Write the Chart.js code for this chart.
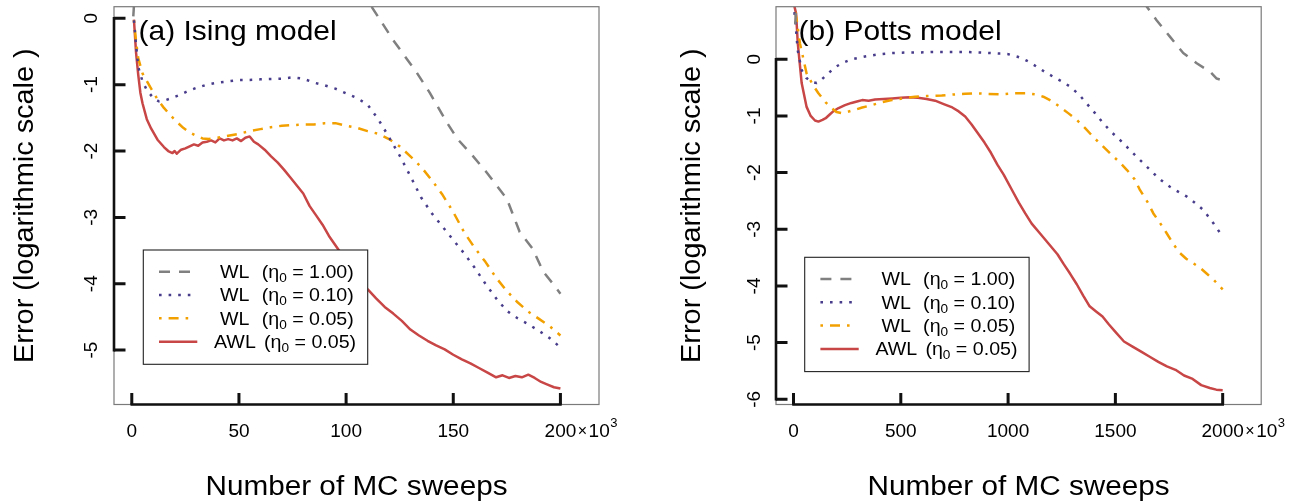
<!DOCTYPE html>
<html>
<head>
<meta charset="utf-8">
<script src="https://cdn.jsdelivr.net/npm/chart.js@4.4.0/dist/chart.umd.min.js"></script>
<style>
  html, body { margin: 0; padding: 0; background: #ffffff; }
  #wrap { position: relative; width: 1302px; height: 501px; }
  canvas { position: absolute; top: 0; }
  #ca { left: 0; }
  #cb { left: 651px; }
</style>
</head>
<body>
<div id="wrap">
  <canvas id="ca" width="651" height="501"></canvas>
  <canvas id="cb" width="651" height="501"></canvas>
</div>
<script>
// ---------------- DATA ----------------
const seriesNames = ["WL", "WL", "WL", "AWL"];
const seriesEta = ["1.00", "0.10", "0.05", "0.05"];

// Panel (a) Ising model  (x in units of 10^3 sweeps, y = log error)
const isingGrayX   = [0.7, 2, 5, 60, 100, 112, 122, 133, 139, 147, 152, 159, 165.5, 175, 181, 187, 192, 196, 200];
const isingGrayY   = [0.03, 0.7, 1.5, 2.2, 0.8, 0.17, -0.33, -0.82, -1.12, -1.57, -1.82, -2.07, -2.32, -2.72, -3.22, -3.47, -3.82, -3.98, -4.15];

const isingBlueX   = [1, 2, 3, 5, 7, 10, 12.5, 15, 18, 22, 26, 30, 35, 40, 45, 50, 55, 60, 65, 70, 75, 80, 85, 90, 95, 100, 105, 110, 115, 120, 125, 130, 135, 140, 145, 150, 155, 160, 165, 170, 175, 180, 185, 190, 195, 200];
const isingBlueY   = [-0.03, -0.4, -0.73, -0.95, -1.08, -1.2, -1.25, -1.24, -1.21, -1.16, -1.1, -1.05, -1.0, -0.97, -0.95, -0.93, -0.93, -0.92, -0.915, -0.91, -0.89, -0.91, -0.97, -1.01, -1.06, -1.13, -1.2, -1.3, -1.52, -1.79, -2.07, -2.38, -2.7, -2.94, -3.14, -3.34, -3.54, -3.76, -4.0, -4.22, -4.41, -4.52, -4.61, -4.71, -4.82, -4.96];

const isingOrangeX = [1, 2, 3, 5, 8.5, 12, 15, 18, 21, 24, 27, 30, 33, 36, 40, 45, 50, 55, 60, 65, 70, 75, 80, 85, 90, 95, 100, 105, 110, 115, 120, 125, 130, 135, 140, 145, 150, 155, 160, 165, 170, 175, 180, 185, 190, 195, 200];
const isingOrangeY = [-0.03, -0.35, -0.6, -0.83, -1.03, -1.22, -1.35, -1.46, -1.56, -1.65, -1.72, -1.77, -1.81, -1.82, -1.8, -1.77, -1.74, -1.7, -1.67, -1.64, -1.62, -1.61, -1.6, -1.6, -1.58, -1.58, -1.62, -1.65, -1.7, -1.74, -1.82, -1.93, -2.08, -2.24, -2.44, -2.66, -2.92, -3.22, -3.46, -3.67, -3.91, -4.11, -4.28, -4.42, -4.53, -4.64, -4.78];

const isingRedX    = [1, 2, 3, 4, 5, 7, 9, 12, 15, 17, 19, 20, 21, 23, 25, 27, 29, 31, 33, 35, 37, 39, 41, 43, 45, 47, 49, 51, 53, 55, 57, 59, 62, 65, 68, 71, 74, 77, 80, 83, 86, 89, 92, 95, 98, 101, 104, 107, 110, 114, 118, 122, 126, 130, 134, 138, 142, 146, 150, 154, 158, 162, 166, 170, 173, 176, 179, 182, 185, 188, 191, 194, 197, 200];
const isingRedY    = [-0.02, -0.52, -0.85, -1.12, -1.28, -1.52, -1.66, -1.83, -1.94, -2.0, -2.03, -2.0, -2.04, -1.98, -1.96, -1.93, -1.9, -1.92, -1.87, -1.86, -1.84, -1.87, -1.81, -1.84, -1.82, -1.84, -1.81, -1.85, -1.8, -1.78, -1.86, -1.9, -1.98, -2.08, -2.17, -2.28, -2.4, -2.52, -2.64, -2.83, -2.97, -3.11, -3.28, -3.42, -3.56, -3.72, -3.85, -3.97, -4.08, -4.22, -4.35, -4.45, -4.56, -4.69, -4.78, -4.86, -4.93, -4.99, -5.07, -5.14, -5.2, -5.27, -5.34, -5.41, -5.38, -5.42, -5.39, -5.41, -5.37, -5.42, -5.48, -5.52, -5.56, -5.58];

// Panel (b) Potts model
const pottsGrayX   = [8, 20, 800, 1500, 1646, 1692, 1754, 1816, 1879, 1941, 1972, 2000];
const pottsGrayY   = [0.62, 1.5, 3.0, 2.0, 0.93, 0.69, 0.4, 0.11, -0.07, -0.22, -0.34, -0.37];

const pottsBlueX   = [0, 10, 19.6, 38, 60, 85, 108, 130, 162, 190, 225, 270, 333, 400, 458, 520, 582, 650, 721, 800, 877, 962, 1001, 1040, 1063, 1100, 1133, 1170, 1211, 1250, 1288, 1330, 1366, 1405, 1444, 1480, 1521, 1560, 1599, 1640, 1677, 1715, 1754, 1790, 1832, 1870, 1910, 1956, 2000];
const pottsBlueY   = [1.0, 0.6, 0.16, -0.19, -0.33, -0.4, -0.42, -0.36, -0.25, -0.15, -0.07, 0.0, 0.05, 0.09, 0.11, 0.12, 0.12, 0.13, 0.13, 0.13, 0.12, 0.1, 0.09, 0.05, 0.02, -0.05, -0.13, -0.22, -0.31, -0.39, -0.48, -0.62, -0.78, -0.95, -1.13, -1.28, -1.42, -1.57, -1.72, -1.87, -2.01, -2.14, -2.25, -2.33, -2.42, -2.53, -2.66, -2.89, -3.13];

const pottsOrangeX = [0, 15, 30, 61, 90, 116, 150, 178, 200, 225, 250, 287, 320, 364, 410, 458, 510, 566, 620, 691, 750, 800, 846, 900, 970, 1030, 1087, 1130, 1164, 1200, 1242, 1280, 1320, 1360, 1397, 1440, 1475, 1515, 1553, 1590, 1615, 1650, 1677, 1710, 1739, 1770, 1801, 1830, 1863, 1895, 1925, 1960, 2000];
const pottsOrangeY = [1.0, 0.69, 0.28, -0.25, -0.45, -0.6, -0.76, -0.86, -0.93, -0.95, -0.93, -0.89, -0.85, -0.81, -0.76, -0.72, -0.69, -0.66, -0.65, -0.64, -0.62, -0.61, -0.6, -0.61, -0.62, -0.6, -0.6, -0.62, -0.66, -0.73, -0.84, -0.95, -1.07, -1.22, -1.37, -1.53, -1.66, -1.8, -1.95, -2.12, -2.31, -2.52, -2.72, -2.9, -3.07, -3.26, -3.42, -3.52, -3.6, -3.68, -3.78, -3.9, -4.06];

const pottsRedX    = [0, 12, 20, 38, 61, 80, 100, 116, 135, 150, 170, 185, 210, 240, 270, 300, 320, 350, 380, 420, 460, 500, 540, 580, 620, 660, 700, 740, 770, 800, 830, 860, 890, 920, 950, 980, 1020, 1050, 1080, 1110, 1150, 1190, 1230, 1260, 1290, 1320, 1350, 1380, 1410, 1440, 1470, 1500, 1540, 1580, 1620, 1660, 1700, 1740, 1780, 1820, 1860, 1900, 1940, 1970, 2000];
const pottsRedY    = [1.0, 0.81, 0.28, -0.42, -0.84, -1.0, -1.08, -1.1, -1.07, -1.04, -0.97, -0.92, -0.86, -0.81, -0.77, -0.74, -0.72, -0.73, -0.71, -0.7, -0.69, -0.68, -0.67, -0.68, -0.7, -0.73, -0.79, -0.85, -0.92, -1.01, -1.15, -1.31, -1.47, -1.65, -1.86, -2.04, -2.32, -2.53, -2.72, -2.9, -3.08, -3.26, -3.44, -3.62, -3.79, -3.97, -4.17, -4.36, -4.45, -4.54, -4.68, -4.81, -4.98, -5.07, -5.16, -5.25, -5.34, -5.42, -5.48, -5.58, -5.64, -5.75, -5.8, -5.83, -5.84];

// Tick labels
const isingXTicks = [0, 50, 100, 150, 200];
const isingYTicks = [0, -1, -2, -3, -4, -5];
const pottsXTicks = [0, 500, 1000, 1500, 2000];
const pottsYTicks = [0, -1, -2, -3, -4, -5, -6];

const panelTitles = ["(a) Ising model", "(b) Potts model"];
const xAxisTitle = "Number of MC sweeps";
const yAxisTitle = "Error (logarithmic scale )";

// ---------------- STYLE ----------------
const COLORS = ["#808080", "#483D8B", "#F2A000", "#C84646"];
const LW = 2.5;
const DASHES = [[11, 9], [2.6, 7], [2.6, 7, 10, 7], []];
const FONT = '"Liberation Sans", Arial, Helvetica, sans-serif';

function pts(xs, ys) { return xs.map((x, i) => ({ x: x, y: ys[i] })); }

function txt(ctx, s, x, y, o) {
  ctx.save();
  ctx.translate(x, y);
  if (o.rot) ctx.rotate(o.rot);
  ctx.scale(o.sx || 1, 1);
  ctx.font = o.size + 'px ' + FONT;
  ctx.textAlign = o.align || 'left';
  ctx.textBaseline = o.baseline || 'alphabetic';
  ctx.fillStyle = o.color || '#000';
  ctx.fillText(s, 0, 0);
  const w = ctx.measureText(s).width * (o.sx || 1);
  ctx.restore();
  return w;
}

const decor = {
  id: 'decor',
  afterDatasetsDraw(chart) {
    const cfg = chart.options.plugins.decor;
    const ctx = chart.ctx;
    const a = chart.chartArea;
    const xs = chart.scales.x, ys = chart.scales.y;
    ctx.save();
    // plot box
    ctx.strokeStyle = '#7a7a7a';
    ctx.lineWidth = 1.2;
    ctx.strokeRect(a.left, a.top, a.right - a.left, a.bottom - a.top);

    // axes (thick lines spanning tick range) + inward ticks
    ctx.strokeStyle = '#111';
    ctx.lineWidth = 2.6;
    ctx.lineCap = 'butt';
    const xt = cfg.xTicks, yt = cfg.yTicks;
    ctx.beginPath();
    ctx.moveTo(xs.getPixelForValue(xt[0]) - 1.3, a.bottom);
    ctx.lineTo(xs.getPixelForValue(xt[xt.length - 1]) + 1.3, a.bottom);
    ctx.moveTo(a.left, ys.getPixelForValue(yt[0]) - 1.3);
    ctx.lineTo(a.left, ys.getPixelForValue(yt[yt.length - 1]) + 1.3);
    ctx.stroke();
    ctx.lineWidth = 3;
    ctx.beginPath();
    xt.forEach(v => { const p = xs.getPixelForValue(v); ctx.moveTo(p, a.bottom); ctx.lineTo(p, a.bottom - 11.5); });
    yt.forEach(v => { const p = ys.getPixelForValue(v); ctx.moveTo(a.left, p); ctx.lineTo(a.left + 11.5, p); });
    ctx.stroke();

    // tick labels
    xt.forEach((v, i) => {
      const p = xs.getPixelForValue(v);
      const w = txt(ctx, String(v), p, a.bottom + 32, { size: 19, align: 'center' });
      if (i === xt.length - 1) {
        let x0 = p + w / 2 + 1.5;
        x0 += txt(ctx, '\u00d7', x0, a.bottom + 31, { size: 16 }) + 1.5;
        x0 += txt(ctx, '10', x0, a.bottom + 32, { size: 19 }) + 0.5;
        txt(ctx, '3', x0, a.bottom + 22.5, { size: 13 });
      }
    });
    yt.forEach(v => {
      const p = ys.getPixelForValue(v);
      txt(ctx, String(v), a.left + cfg.yTickOff, p, { size: 19, align: 'center', rot: -Math.PI / 2 });
    });

    // axis titles
    txt(ctx, xAxisTitle, (a.left + a.right) / 2, a.bottom + 90.5, { size: 27, align: 'center', sx: 1.1 });
    ctx.save();
    ctx.translate(a.left + cfg.yTitleOff, (a.top + a.bottom) / 2);
    ctx.rotate(-Math.PI / 2);
    txt(ctx, yAxisTitle, 0, 0, { size: 27, align: 'center', sx: 1.07 });
    ctx.restore();

    // panel label
    txt(ctx, cfg.title, a.left + cfg.titleOff, a.top + 33.3, { size: 28, sx: 1.07 });

    // legend
    const L = cfg.legend;
    const lx = a.left + L.dx, ly = L.top;
    ctx.fillStyle = '#fff';
    ctx.fillRect(lx, ly, 224.4, 114.3);
    ctx.strokeStyle = '#222';
    ctx.lineWidth = 1.1;
    ctx.strokeRect(lx, ly, 224.4, 114.3);
    const rows = [21.7, 45, 68.3, 91.7];
    chart.data.datasets.forEach((ds, i) => {
      const ry = ly + rows[i];
      ctx.save();
      ctx.strokeStyle = ds.borderColor;
      ctx.lineWidth = LW;
      ctx.setLineDash(DASHES[i]);
      ctx.beginPath();
      ctx.moveTo(lx + 15.7, ry);
      ctx.lineTo(lx + (i === 3 ? 54 : (i === 1 ? 52 : 48.4)), ry);
      ctx.stroke();
      ctx.restore();
      const nameX = lx + (seriesNames[i] === 'AWL' ? 70.7 : 76.7);
      const parX = lx + (seriesNames[i] === 'AWL' ? 120.7 : 118.4);
      const base = ry + 6.4;
      txt(ctx, seriesNames[i], nameX, base, { size: 18, sx: 1.09 });
      let x0 = parX;
      x0 += txt(ctx, '(\u03b7', x0, base, { size: 18, sx: 1.09 });
      x0 += txt(ctx, '0', x0, base + 4, { size: 12.5, sx: 1.09 });
      txt(ctx, ' = ' + seriesEta[i] + ')', x0, base, { size: 18, sx: 1.09 });
    });
    ctx.restore();
  }
};

function makeChart(id, data, xr, yr, pad, decorCfg) {
  const datasets = data.map((d, i) => ({
    label: seriesNames[i] + ' (eta0 = ' + seriesEta[i] + ')',
    data: d,
    borderColor: COLORS[i],
    borderWidth: LW,
    borderDash: DASHES[i],
    borderCapStyle: 'butt',
    borderJoinStyle: 'round',
    pointRadius: 0,
    tension: 0,
    fill: false,
    clip: 0
  }));
  return new Chart(document.getElementById(id), {
    type: 'line',
    data: { datasets: datasets },
    options: {
      responsive: false,
      animation: false,
      events: [],
      layout: { padding: pad },
      scales: {
        x: { type: 'linear', min: xr[0], max: xr[1], display: false },
        y: { type: 'linear', min: yr[0], max: yr[1], display: false }
      },
      plugins: { legend: { display: false }, tooltip: { enabled: false }, decor: decorCfg }
    },
    plugins: [decor]
  });
}

makeChart('ca',
  [pts(isingGrayX, isingGrayY), pts(isingBlueX, isingBlueY), pts(isingOrangeX, isingOrangeY), pts(isingRedX, isingRedY)],
  [-8.3, 218.0], [-5.82, 0.175],
  { left: 114, right: 52, top: 6.7, bottom: 96.5 },
  { xTicks: isingXTicks, yTicks: isingYTicks, title: panelTitles[0], titleOff: 24.5, yTickOff: -17, yTitleOff: -81,
    legend: { dx: 29.3, top: 250 } });

makeChart('cb',
  [pts(pottsGrayX, pottsGrayY), pts(pottsBlueX, pottsBlueY), pts(pottsOrangeX, pottsOrangeY), pts(pottsRedX, pottsRedY)],
  [-81.6, 2179.5], [-6.092, 0.928],
  { left: 125, right: 40.8, top: 6.7, bottom: 96.5 },
  { xTicks: pottsXTicks, yTicks: pottsYTicks, title: panelTitles[1], titleOff: 22.5, yTickOff: -16, yTitleOff: -76,
    legend: { dx: 28.7, top: 257.3 } });
</script>
</body>
</html>
